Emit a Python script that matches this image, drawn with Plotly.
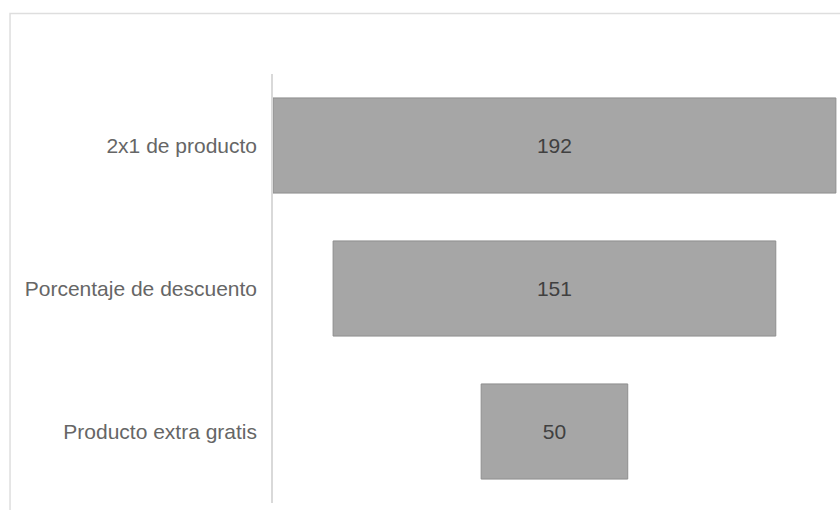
import plotly.graph_objects as go

# Promotion preference counts
categories = ["2x1 de producto", "Porcentaje de descuento", "Producto extra gratis"]
values = [192, 151, 50]

fig = go.Figure(
    go.Funnel(
        y=categories,
        x=values,
        text=[str(v) for v in values],
        textinfo="text",
        textposition="inside",
        insidetextanchor="middle",
        textfont=dict(family="Liberation Sans, Arial, sans-serif", size=21, color="#404040"),
        marker=dict(color="#a6a6a6", line=dict(color="#8e8e8e", width=1)),
        connector=dict(visible=False),
        hoverinfo="y+x",
    )
)

# Light frame around the chart area
fig.add_shape(
    type="rect", xref="paper", yref="paper",
    x0=-0.4638, x1=1.01, y0=-0.03, y1=1.1409,
    line=dict(color="#dedede", width=1.5), fillcolor="rgba(0,0,0,0)", layer="below",
)

fig.update_layout(
    width=840,
    height=510,
    margin=dict(l=273, r=0, t=74, b=7),
    paper_bgcolor="white",
    plot_bgcolor="white",
    showlegend=False,
    funnelgap=0.335,
    font=dict(family="Liberation Sans, Arial, sans-serif", size=21, color="#606060"),
)
fig.update_xaxes(range=[-96.0, 97.4], visible=False, showgrid=False, zeroline=False)
fig.update_yaxes(
    showline=True,
    linecolor="#d9d9d9",
    linewidth=1.5,
    showgrid=False,
    ticks="outside",
    ticklen=0,
    ticklabelstandoff=10,
    tickfont=dict(family="Liberation Sans, Arial, sans-serif", size=21, color="#666666"),
)

fig.write_html("out.html")
